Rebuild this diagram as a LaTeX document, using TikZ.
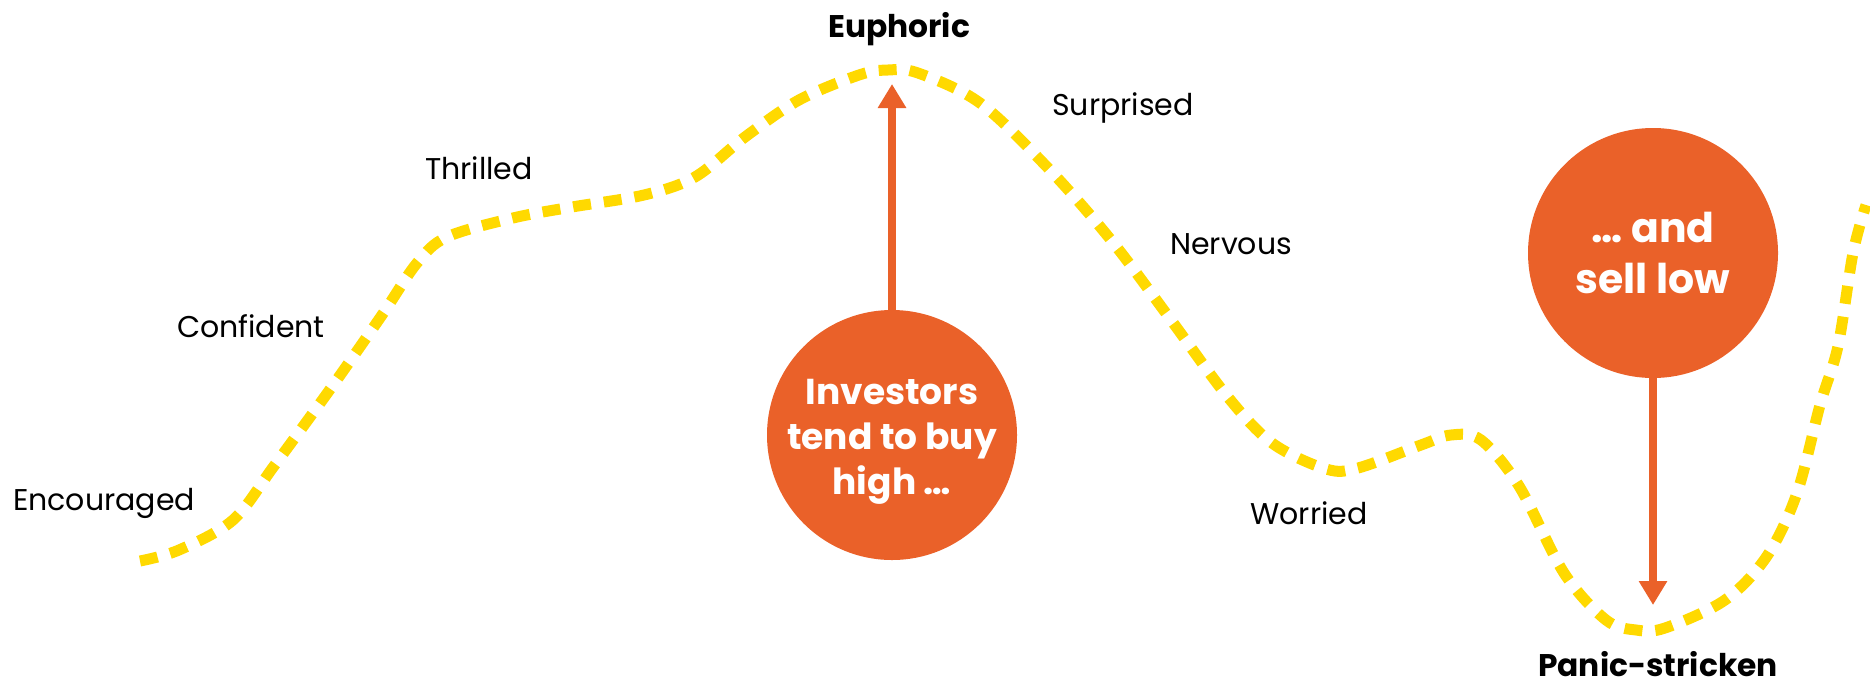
\documentclass[tikz,border=0pt]{standalone}
\usepackage{fontspec}
\setmainfont{Poppins}
\usetikzlibrary{arrows.meta}
\definecolor{curveyellow}{RGB}{255,217,0}
\definecolor{accent}{RGB}{234,97,41}
\begin{document}
\begin{tikzpicture}[x=1pt,y=-1pt,
  mood/.style={anchor=base, inner sep=0pt, font=\fontsize{30}{36}\selectfont},
  extreme/.style={anchor=base, inner sep=0pt, font=\fontsize{31.3}{36}\selectfont\bfseries},
  bubble/.style={circle, fill=accent, minimum size=250pt, inner sep=0pt, outer sep=0pt},
  bubbletext/.style={text=white, align=center, inner sep=0pt},
  cyclepath/.style={draw=curveyellow, line width=11pt, dash pattern=on 18pt off 13pt},
  pointer/.style={draw=accent, line width=8pt, -{Triangle[length=24pt,width=27pt]}}
]
\useasboundingbox (0,0) rectangle (1870,686);

\draw[cyclepath] plot[smooth, tension=0.55] coordinates {
 (140,561) (179,550) (233,520) (274,466) (331,388) (382,315) (417,263) (447,237)
 (513,218) (572,207) (644,195) (695,177) (745,137) (799,100) (859,75) (888,70)
 (918,73) (980,103) (1048,168) (1111,240) (1171,320) (1227,396) (1272,443)
 (1326,469) (1358,468) (1421,445) (1451,435) (1481,440) (1519,486) (1564,573)
 (1606,620) (1636,630) (1665,628) (1725,600) (1767,556) (1797,493) (1820,405)
 (1838,346) (1853,253) (1866,205)};

\node[mood] (encouraged) at (104,510) {Encouraged};
\node[mood] (confident) at (251,337) {Confident};
\node[mood] (thrilled) at (479,179) {Thrilled};
\node[extreme] (euphoric) at (899,37) {Euphoric};
\node[mood] (surprised) at (1123,115) {Surprised};
\node[mood] (nervous) at (1231,254) {Nervous};
\node[mood] (worried) at (1309,524) {Worried};
\node[extreme] (panic) at (1658,676) {Panic-stricken};

\node[bubble] (buy) at (892,435) {};
\node[bubbletext, font=\fontsize{36}{45}\selectfont\bfseries] (buytext) at (892,442) {Investors\\tend to buy\\high \dots};
\node[bubble] (sell) at (1653,253) {};
\node[bubbletext, font=\fontsize{41}{51}\selectfont\bfseries] (selltext) at (1653,253) {\dots\ and\\sell low};

\coordinate (peaktip) at (892,84);
\coordinate (troughtip) at (1653,605);
\draw[pointer] (buy.north) -- (peaktip);
\draw[pointer] (sell.south) -- (troughtip);
\end{tikzpicture}
\end{document}
